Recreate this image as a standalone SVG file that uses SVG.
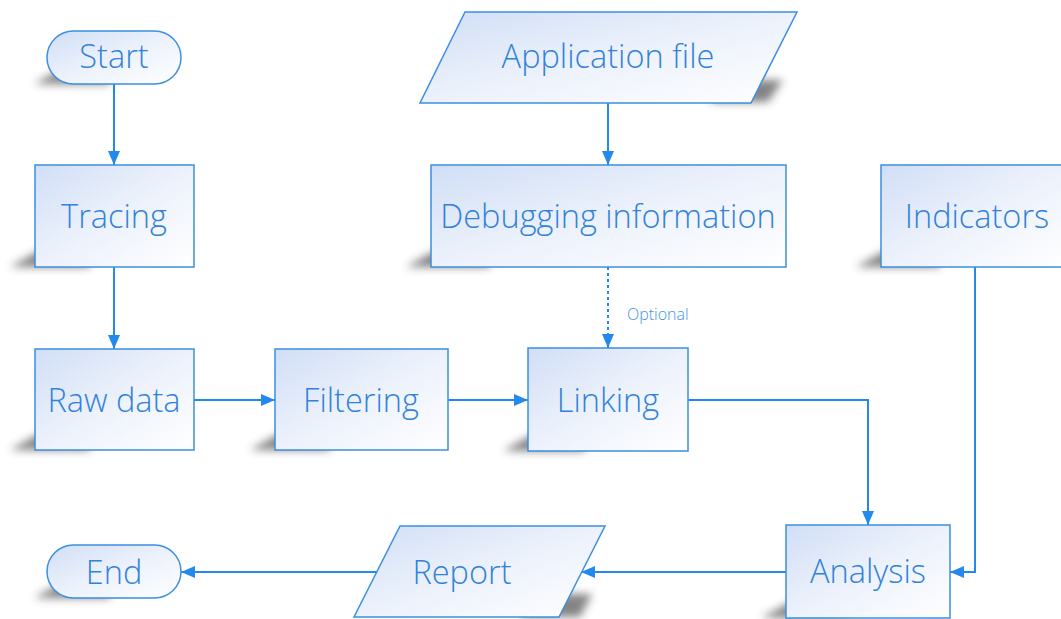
<svg xmlns="http://www.w3.org/2000/svg" width="1061" height="619" viewBox="0 0 1061 619">
  <style>
    .box { fill: url(#nodeFill); stroke: #3d8fe0; stroke-width: 1.5; }
    .shadow { fill: #333333; opacity: 0.6; filter: url(#blurShadow); }
    .label { font-family: "Open Sans", "Lato", "Liberation Sans", sans-serif; font-weight: 300; font-size: 32.5px; fill: #3282d8; text-anchor: middle; }
    .small { font-family: "Open Sans", "Lato", "Liberation Sans", sans-serif; font-weight: 300; font-size: 16px; fill: #4892e2; }
    .edge { fill: none; stroke: #2489ec; stroke-width: 2; }
    .dotted { stroke-dasharray: 3 3; }
  </style>
  <defs>
    <linearGradient id="nodeFill" x1="0" y1="0" x2="1" y2="1">
      <stop offset="0" stop-color="#d0def6"/>
      <stop offset="0.45" stop-color="#eaf0fb"/>
      <stop offset="1" stop-color="#ffffff"/>
    </linearGradient>
    <filter id="blurShadow" x="-50%" y="-50%" width="200%" height="200%">
      <feGaussianBlur stdDeviation="4.5"/>
    </filter>
    <marker id="arrow" viewBox="0 0 14 12" refX="14" refY="6" markerWidth="14" markerHeight="12" markerUnits="userSpaceOnUse" orient="auto">
      <path d="M0,0 L14,6 L0,12 Z" fill="#2489ec"/>
    </marker>
  </defs>

  <!-- connectors -->
  <g id="connectors">
    <path class="edge" d="M114,84 V165" marker-end="url(#arrow)"/>
    <path class="edge" d="M114,267 V349" marker-end="url(#arrow)"/>
    <path class="edge" d="M194,400 H275" marker-end="url(#arrow)"/>
    <path class="edge" d="M448,400 H528" marker-end="url(#arrow)"/>
    <path class="edge" d="M608,103 V165" marker-end="url(#arrow)"/>
    <path class="edge dotted" d="M608,267 V348" marker-end="url(#arrow)"/>
    <text class="small" x="627" y="320">Optional</text>
    <path class="edge" d="M688,400 H868 V525" marker-end="url(#arrow)"/>
    <path class="edge" d="M975,267 V572 H950" marker-end="url(#arrow)"/>
    <path class="edge" d="M786,572 H581" marker-end="url(#arrow)"/>
    <path class="edge" d="M377,572 H181" marker-end="url(#arrow)"/>
  </g>

  <g id="start">
    <path class="shadow" d="M70,64 H110 V84 H34 Z"/>
    <rect class="box" x="47" y="31" width="134" height="53" rx="26.5"/>
    <text class="label" x="114" y="68">Start</text>
  </g>

  <g id="tracing">
    <path class="shadow" d="M55,242 H90 V267 H10 Z"/>
    <rect class="box" x="35" y="165" width="159" height="102"/>
    <text class="label" x="114" y="228">Tracing</text>
  </g>

  <g id="application-file">
    <path class="shadow" d="M720,80 H783 L768,102 H710 Z"/>
    <path class="box" d="M465,12 H797 L751,103 H420 Z"/>
    <text class="label" x="608" y="68">Application file</text>
  </g>

  <g id="debugging-information">
    <path class="shadow" d="M451,242 H490 V267 H406 Z"/>
    <rect class="box" x="431" y="165" width="355" height="102"/>
    <text class="label" x="608" y="228">Debugging information</text>
  </g>

  <g id="indicators">
    <path class="shadow" d="M901,242 H940 V267 H856 Z"/>
    <rect class="box" x="881" y="165" width="185" height="102"/>
    <text class="label" x="977" y="228">Indicators</text>
  </g>

  <g id="raw-data">
    <path class="shadow" d="M55,425 H90 V450 H10 Z"/>
    <rect class="box" x="35" y="349" width="159" height="101"/>
    <text class="label" x="114" y="412">Raw data</text>
  </g>

  <g id="filtering">
    <path class="shadow" d="M295,425 H330 V450 H250 Z"/>
    <rect class="box" x="275" y="349" width="173" height="101"/>
    <text class="label" x="361" y="412">Filtering</text>
  </g>

  <g id="linking">
    <path class="shadow" d="M548,426 H585 V451 H503 Z"/>
    <rect class="box" x="528" y="348" width="160" height="103"/>
    <text class="label" x="608" y="412">Linking</text>
  </g>

  <g id="analysis">
    <path class="shadow" d="M806,594 H845 V618 H761 Z"/>
    <rect class="box" x="786" y="525" width="164" height="93"/>
    <text class="label" x="868" y="583">Analysis</text>
  </g>

  <g id="report">
    <path class="shadow" d="M530,594 H592 L580,617 H520 Z"/>
    <path class="box" d="M400,526 H605 L559,617 H354 Z"/>
    <text class="label" x="462" y="584">Report</text>
  </g>

  <g id="end">
    <path class="shadow" d="M70,578 H110 V598 H34 Z"/>
    <rect class="box" x="47" y="545" width="134" height="53" rx="26.5"/>
    <text class="label" x="114" y="584">End</text>
  </g>
</svg>
